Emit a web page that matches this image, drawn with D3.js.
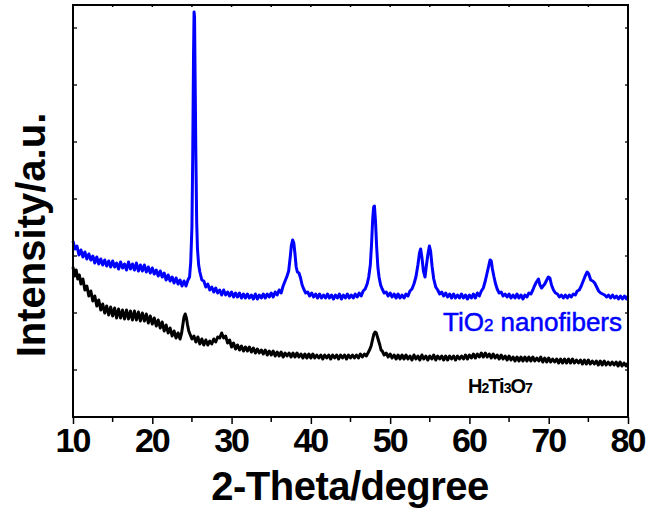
<!DOCTYPE html>
<html>
<head>
<meta charset="utf-8">
<script src="https://cdn.jsdelivr.net/npm/d3@7"></script>
<style>
  body { margin:0; background:#fff; }
  svg { display:block; }
  .tick text { font-family: Arial, "Liberation Sans", sans-serif; font-weight:bold; }
</style>
</head>
<body>
<svg id="svg" width="649" height="515"></svg>
<script>
// x range and ticks
const xMajor = [10, 20, 30, 40, 50, 60, 70, 80];
const xMinor = [15, 25, 35, 45, 55, 65, 75];
// intensity ticks (unlabelled, a.u.)
const yTicks = [47, 104, 161, 218, 275, 332, 389];

// TiO2 nanofibers pattern [2theta, intensity]
const tio2 = [[10,176],[10.25,168],[10.5,171],[10.75,162],[11,167],[11.25,160],[11.5,165],[11.75,158],[12,163],[12.25,157],[12.5,161],[12.75,154],[13,160],[13.25,153],[13.5,158],[13.75,152],[14,157],[14.25,151],[14.5,156],[14.75,150],[15,156],[15.25,150],[15.5,154],[15.75,148],[16,155],[16.25,149],[16.5,153],[16.75,147],[17,155],[17.25,148],[17.5,153],[17.75,147],[18,154],[18.25,146],[18.5,152],[18.75,146],[19,152],[19.25,145],[19.5,150],[19.75,144],[20,149],[20.25,143],[20.5,147],[20.75,141],[21,146],[21.25,140],[21.5,144],[21.75,137],[22,142],[22.25,136],[22.5,140],[22.75,134],[23,139],[23.25,133],[23.5,137],[23.75,131],[24,136],[24.25,131],[24.5,137],[24.7,140],[24.85,155],[25.0,190],[25.1,260],[25.2,360],[25.27,405],[25.33,400],[25.4,340],[25.5,260],[25.6,195],[25.7,168],[25.85,152],[26,145],[26.25,137],[26.5,136],[26.75,130],[27,133],[27.25,127],[27.5,130],[27.75,125],[28,129],[28.25,124],[28.5,127],[28.75,122],[29,127],[29.25,122],[29.5,125],[29.75,121],[30,125],[30.25,120],[30.5,124],[30.75,120],[31,124],[31.25,119],[31.5,123],[31.75,119],[32,123],[32.25,119],[32.5,122],[32.75,118],[33,123],[33.25,118],[33.5,122],[33.75,119],[34,123],[34.25,119],[34.5,123],[34.75,120],[35,124],[35.25,120],[35.5,125],[35.75,122],[36,127],[36.25,124],[36.5,131],[36.75,136],[37,141],[37.2,146],[37.4,160],[37.55,172],[37.7,177],[37.85,174],[38.0,163],[38.15,150],[38.3,145],[38.5,144],[38.7,139],[38.9,132],[39.1,128],[39.35,124],[39.6,125],[39.85,121],[40.1,124],[40.35,120],[40.6,123],[40.85,119],[41.1,123],[41.35,119],[41.6,122],[41.85,119],[42.1,123],[42.35,119],[42.6,122],[42.85,118],[43.1,122],[43.35,119],[43.6,123],[43.85,118],[44.1,122],[44.35,119],[44.6,123],[44.85,119],[45.1,122],[45.35,119],[45.6,123],[45.85,120],[46.1,124],[46.35,121],[46.6,126],[46.85,128],[47.1,133],[47.3,140],[47.5,152],[47.65,172],[47.8,198],[47.92,210],[48.02,211],[48.15,196],[48.3,170],[48.45,150],[48.6,140],[48.8,132],[49,128],[49.25,124],[49.5,125],[49.75,121],[50,124],[50.25,120],[50.5,123],[50.75,119],[51,123],[51.25,119],[51.5,122],[51.75,119],[52,123],[52.25,121],[52.5,126],[52.75,128],[53,133],[53.25,140],[53.5,152],[53.7,164],[53.85,168],[54.0,160],[54.2,146],[54.4,140],[54.55,150],[54.75,162],[54.95,171],[55.1,166],[55.3,150],[55.5,138],[55.75,130],[56,127],[56.25,123],[56.5,125],[56.75,121],[57,124],[57.25,120],[57.5,123],[57.75,119],[58,123],[58.25,119],[58.5,122],[58.75,119],[59,123],[59.25,119],[59.5,122],[59.75,118],[60,122],[60.25,119],[60.5,123],[60.75,119],[61,124],[61.25,121],[61.5,126],[61.75,129],[62,136],[62.2,143],[62.4,150],[62.6,157],[62.75,156],[62.9,148],[63.1,140],[63.3,133],[63.5,128],[63.75,124],[64,125],[64.25,121],[64.5,123],[64.75,120],[65,123],[65.25,119],[65.5,122],[65.75,119],[66,123],[66.25,119],[66.5,122],[66.75,118],[67,122],[67.25,120],[67.5,124],[67.75,123],[68,127],[68.2,131],[68.45,135],[68.7,138],[68.9,132],[69.1,129],[69.3,131],[69.5,133],[69.75,137],[69.95,140],[70.15,139],[70.35,132],[70.6,127],[70.85,124],[71.1,123],[71.35,120],[71.6,122],[71.85,119],[72.1,122],[72.35,119],[72.6,122],[72.85,120],[73.1,123],[73.35,122],[73.6,126],[73.85,127],[74.1,131],[74.35,136],[74.6,141],[74.85,145],[75.05,143],[75.3,137],[75.55,136],[75.8,134],[76.05,130],[76.3,126],[76.55,124],[76.8,123],[77.05,122],[77.3,120],[77.55,122],[77.8,119],[78.05,122],[78.3,119],[78.55,121],[78.8,118],[79.05,121],[79.3,118],[79.55,121],[79.8,118],[80,121]];

// H2Ti3O7 precursor pattern [2theta, intensity]
const h2ti3o7 = [[10,150],[10.2,141],[10.4,147],[10.6,138],[10.8,142],[11,133],[11.25,138],[11.5,127],[11.75,131],[12,121],[12.25,126],[12.5,116],[12.75,121],[13,111],[13.25,117],[13.5,107],[13.75,113],[14,104],[14.25,111],[14.5,102],[14.75,110],[15,101],[15.25,109],[15.5,99],[15.75,108],[16,99],[16.25,107],[16.5,98],[16.75,107],[17,98],[17.25,106],[17.5,97],[17.75,106],[18,97],[18.25,105],[18.5,96],[18.75,104],[19,96],[19.25,103],[19.5,94],[19.75,101],[20,93],[20.25,99],[20.5,91],[20.75,97],[21,89],[21.25,95],[21.5,86],[21.75,92],[22,84],[22.25,89],[22.5,81],[22.75,86],[23,79],[23.25,84],[23.5,78],[23.7,84],[23.85,92],[24.0,100],[24.15,103],[24.3,99],[24.45,92],[24.6,86],[24.8,82],[25,78],[25.25,81],[25.5,75],[25.75,80],[26,73],[26.25,78],[26.5,72],[26.75,77],[27,72],[27.25,76],[27.5,73],[27.75,78],[28,75],[28.25,80],[28.5,79],[28.75,84],[29,79],[29.25,81],[29.5,74],[29.75,77],[30,70],[30.25,74],[30.5,68],[30.75,72],[31,67],[31.25,71],[31.5,66],[31.75,70],[32,66],[32.25,70],[32.5,65],[32.75,69],[33,64],[33.25,68],[33.5,64],[33.75,67],[34,63],[34.25,67],[34.5,62],[34.75,66],[35,62],[35.25,66],[35.5,61],[35.75,65],[36,61],[36.25,65],[36.5,60],[36.75,64],[37,61],[37.25,64],[37.5,60],[37.75,64],[38,60],[38.25,64],[38.5,60],[38.75,63],[39,59],[39.25,63],[39.5,59],[39.75,63],[40,59],[40.25,63],[40.5,59],[40.75,62],[41,59],[41.25,62],[41.5,58],[41.75,62],[42,59],[42.25,62],[42.5,58],[42.75,62],[43,59],[43.25,62],[43.5,58],[43.75,62],[44,59],[44.25,62],[44.5,58],[44.75,62],[45,59],[45.25,62],[45.5,59],[45.75,62],[46,59],[46.25,63],[46.5,60],[46.75,63],[47,61],[47.2,64],[47.4,67],[47.6,71],[47.8,78],[47.95,83],[48.1,85],[48.25,84],[48.4,80],[48.55,76],[48.7,72],[48.85,67],[49,66],[49.25,62],[49.5,64],[49.75,60],[50,63],[50.25,59],[50.5,62],[50.75,58],[51,62],[51.25,58],[51.5,62],[51.75,58],[52,62],[52.25,58],[52.5,61],[52.75,57],[53,62],[53.25,58],[53.5,61],[53.75,57],[54,62],[54.25,58],[54.5,61],[54.75,57],[55,61],[55.25,58],[55.5,62],[55.75,57],[56,61],[56.25,58],[56.5,61],[56.75,57],[57,61],[57.25,57],[57.5,61],[57.75,58],[58,61],[58.25,57],[58.5,61],[58.75,58],[59,61],[59.25,58],[59.5,62],[59.75,58],[60,62],[60.25,59],[60.5,63],[60.75,59],[61,63],[61.25,60],[61.5,64],[61.75,60],[62,64],[62.25,60],[62.5,63],[62.75,59],[63,63],[63.25,59],[63.5,62],[63.75,58],[64,62],[64.25,58],[64.5,61],[64.75,57],[65,61],[65.25,57],[65.5,60],[65.75,56],[66,60],[66.25,56],[66.5,60],[66.75,56],[67,60],[67.25,56],[67.5,60],[67.75,56],[68,60],[68.25,56],[68.5,59],[68.75,56],[69,60],[69.25,55],[69.5,59],[69.75,55],[70,59],[70.25,55],[70.5,58],[70.75,55],[71,58],[71.25,54],[71.5,58],[71.75,54],[72,58],[72.25,54],[72.5,58],[72.75,54],[73,58],[73.25,54],[73.5,57],[73.75,54],[74,57],[74.25,53],[74.5,57],[74.75,53],[75,57],[75.25,53],[75.5,56],[75.75,53],[76,56],[76.25,52],[76.5,56],[76.75,52],[77,56],[77.25,52],[77.5,55],[77.75,52],[78,55],[78.25,52],[78.5,55],[78.75,51],[79,55],[79.25,51],[79.5,54],[79.75,51],[80,54]];

const dims = { width: 649, height: 515 };
const margins = { left: 73, right: 21, top: 5, bottom: 98 };
const font = 'Arial, "Liberation Sans", sans-serif';

const xScale = d3.scaleLinear()
    .domain([10, 80])
    .range([margins.left, dims.width - margins.right]);
const yScale = d3.scaleLinear()
    .domain([0, 412])
    .range([dims.height - margins.bottom, margins.top]);

const mySvg = d3.select('#svg');
const plotBottom = dims.height - margins.bottom;
const plotRight = dims.width - margins.right;

// curves
const line = d3.line()
    .x(d => xScale(d[0]))
    .y(d => yScale(d[1]));

mySvg.append('path')
    .datum(h2ti3o7)
    .attr('d', line)
    .attr('fill', 'none')
    .attr('stroke', '#000')
    .attr('stroke-width', 3)
    .attr('stroke-linejoin', 'round');

mySvg.append('path')
    .datum(tio2)
    .attr('d', line)
    .attr('fill', 'none')
    .attr('stroke', '#0000ff')
    .attr('stroke-width', 3)
    .attr('stroke-linejoin', 'round');

// bottom axis, major + minor ticks outward
const xAxis = d3.axisBottom(xScale)
    .tickValues(xMajor)
    .tickSize(7)
    .tickPadding(4)
    .tickFormat(d3.format('d'));
const gx = mySvg.append('g')
    .attr('transform', `translate(0, ${plotBottom})`)
    .call(xAxis);
gx.select('.domain').remove();
gx.selectAll('line').attr('stroke-width', 1.5);
gx.selectAll('text')
    .attr('font-size', 34)
    .attr('letter-spacing', -2)
    .attr('dx', -1)
    .attr('fill', '#000');

mySvg.append('g')
    .attr('transform', `translate(0, ${plotBottom})`)
    .selectAll('line').data(xMinor).enter().append('line')
    .attr('x1', d => xScale(d)).attr('x2', d => xScale(d))
    .attr('y1', 0).attr('y2', 5)
    .attr('stroke', '#000').attr('stroke-width', 1.5);

// top axis small ticks
mySvg.append('g')
    .selectAll('line').data(xMajor.concat(xMinor)).enter().append('line')
    .attr('x1', d => xScale(d)).attr('x2', d => xScale(d))
    .attr('y1', margins.top - 1).attr('y2', margins.top + 2)
    .attr('stroke', '#000').attr('stroke-width', 1.5);

// left / right ticks inward
mySvg.append('g')
    .selectAll('line').data(yTicks).enter().append('line')
    .attr('x1', margins.left).attr('x2', margins.left + 4)
    .attr('y1', d => yScale(d)).attr('y2', d => yScale(d))
    .attr('stroke', '#000').attr('stroke-width', 1.3);
mySvg.append('g')
    .selectAll('line').data(yTicks).enter().append('line')
    .attr('x1', plotRight - 3).attr('x2', plotRight + 1)
    .attr('y1', d => yScale(d)).attr('y2', d => yScale(d))
    .attr('stroke', '#000').attr('stroke-width', 1.3);

// frame
mySvg.append('rect')
    .attr('x', margins.left).attr('y', margins.top)
    .attr('width', plotRight - margins.left)
    .attr('height', plotBottom - margins.top)
    .attr('fill', 'none')
    .attr('stroke', '#000')
    .attr('stroke-width', 2);

// axis titles
mySvg.append('text')
    .attr('x', 350)
    .attr('y', 500)
    .attr('text-anchor', 'middle')
    .attr('font-family', font)
    .attr('font-weight', 'bold')
    .attr('font-size', 40)
    .attr('letter-spacing', -0.5)
    .text('2-Theta/degree');

mySvg.append('text')
    .attr('transform', 'translate(45, 235) rotate(-90)')
    .attr('text-anchor', 'middle')
    .attr('font-family', font)
    .attr('font-weight', 'bold')
    .attr('font-size', 40)
    .text('Intensity/a.u.');

// series labels
const lab1 = mySvg.append('text')
    .attr('x', 443).attr('y', 331)
    .attr('font-family', font)
    .attr('font-size', 26)
    .attr('fill', '#0000ff')
    .attr('stroke', '#0000ff')
    .attr('stroke-width', 0.5);
lab1.append('tspan').text('TiO');
lab1.append('tspan').attr('font-size', 17).text('2');
lab1.append('tspan').text(' nanofibers');

const lab2 = mySvg.append('text')
    .attr('x', 468).attr('y', 393)
    .attr('font-family', font)
    .attr('font-weight', 'bold')
    .attr('font-size', 20)
    .attr('letter-spacing', -1)
    .attr('fill', '#000');
lab2.append('tspan').text('H');
lab2.append('tspan').attr('font-size', 14).text('2');
lab2.append('tspan').text('Ti');
lab2.append('tspan').attr('font-size', 14).text('3');
lab2.append('tspan').text('O');
lab2.append('tspan').attr('font-size', 14).text('7');
</script>
</body>
</html>
